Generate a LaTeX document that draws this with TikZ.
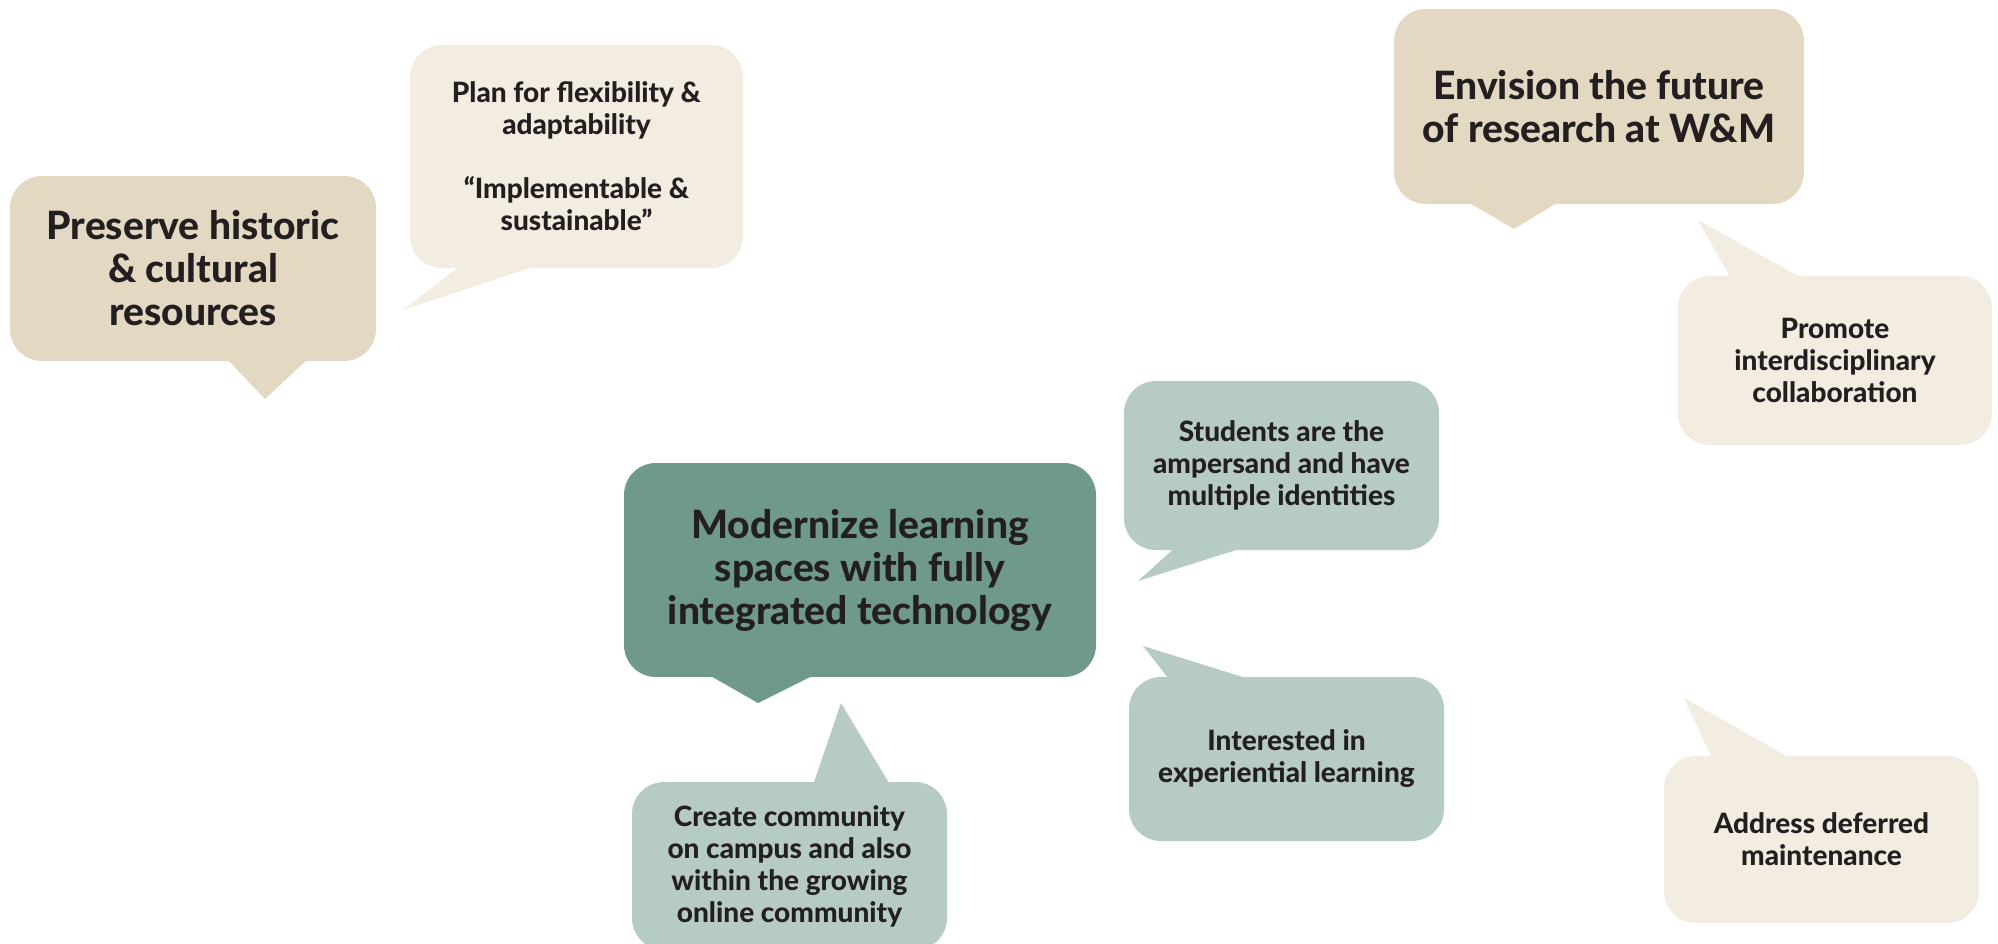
\documentclass[tikz,border=0pt]{standalone}
\usepackage{fontspec}
\setmainfont{Lato}[BoldFont={Lato Heavy}]
\definecolor{tanc}{HTML}{E3D9C2}
\definecolor{creamc}{HTML}{F2ECE1}
\definecolor{darkg}{HTML}{6F9A8B}
\definecolor{lightg}{HTML}{B6CBC5}
\definecolor{txt}{HTML}{231F20}
\tikzset{
  bubble/.style={rounded corners=16pt, inner sep=0pt, align=center, text=txt, font=\bfseries},
  big/.style={bubble, font=\fontsize{19.5}{21.5}\selectfont\bfseries},
  small/.style={bubble, font=\fontsize{14}{16}\selectfont\bfseries},
}
\begin{document}
\begin{tikzpicture}[x=0.5pt,y=-0.5pt]
\useasboundingbox (0,0) rectangle (1998,943);
\begin{scope}
\clip (0,0) rectangle (1998,943);
% Preserve
\fill[tanc] (223,355) -- (265,399) -- (312,355) -- cycle;
\node[big, fill=tanc, minimum width=183pt, minimum height=92.5pt] (pres) at (193,268.5) {Preserve historic\\\& cultural\\resources};
% Plan
\fill[creamc] (465,262) -- (403,310) -- (548,262) -- cycle;
\node[small, fill=creamc, minimum width=166.5pt, minimum height=111.5pt] (plan) at (576.5,156.5) {Plan for flexibility \&\\adaptability\\[16pt]“Implementable \&\\sustainable”};
% Envision
\fill[tanc] (1461,198) -- (1514,229) -- (1565,198) -- cycle;
\node[big, fill=tanc, minimum width=205pt, minimum height=97.5pt] (env) at (1599,106.5) {Envision the future\\of research at W\&M};
% Promote
\fill[creamc] (1733,282) -- (1698,220) -- (1809,282) -- cycle;
\node[small, fill=creamc, minimum width=157pt, minimum height=84.5pt] (prom) at (1835,360.5) {Promote\\interdisciplinary\\collaboration};
% Modernize
\fill[darkg] (702,671) -- (758,703) -- (822,671) -- cycle;
\node[big, fill=darkg, minimum width=236pt, minimum height=107pt] (mod) at (860,570) {Modernize learning\\spaces with fully\\integrated technology};
% Students
\fill[lightg] (1179,544) -- (1138,581) -- (1255,544) -- cycle;
\node[small, fill=lightg, minimum width=157.5pt, minimum height=84.5pt] (stud) at (1281.5,465.5) {Students are the\\ampersand and have\\multiple identities};
% Interested
\fill[lightg] (1172,683) -- (1143,646) -- (1262,683) -- cycle;
\node[small, fill=lightg, minimum width=157.5pt, minimum height=82pt] (int) at (1286.5,759) {Interested in\\experiential learning};
% Create
\fill[lightg] (812,788) -- (841,703) -- (892,788) -- cycle;
\node[small, fill=lightg, minimum width=157.5pt, minimum height=84pt] (create) at (789.5,866) {Create community\\on campus and also\\within the growing\\online community};
% Address
\fill[creamc] (1714,762) -- (1684,698) -- (1797,762) -- cycle;
\node[small, fill=creamc, minimum width=157.5pt, minimum height=83.5pt] (addr) at (1821.5,839.5) {Address deferred\\maintenance};
\end{scope}
\end{tikzpicture}
\end{document}
